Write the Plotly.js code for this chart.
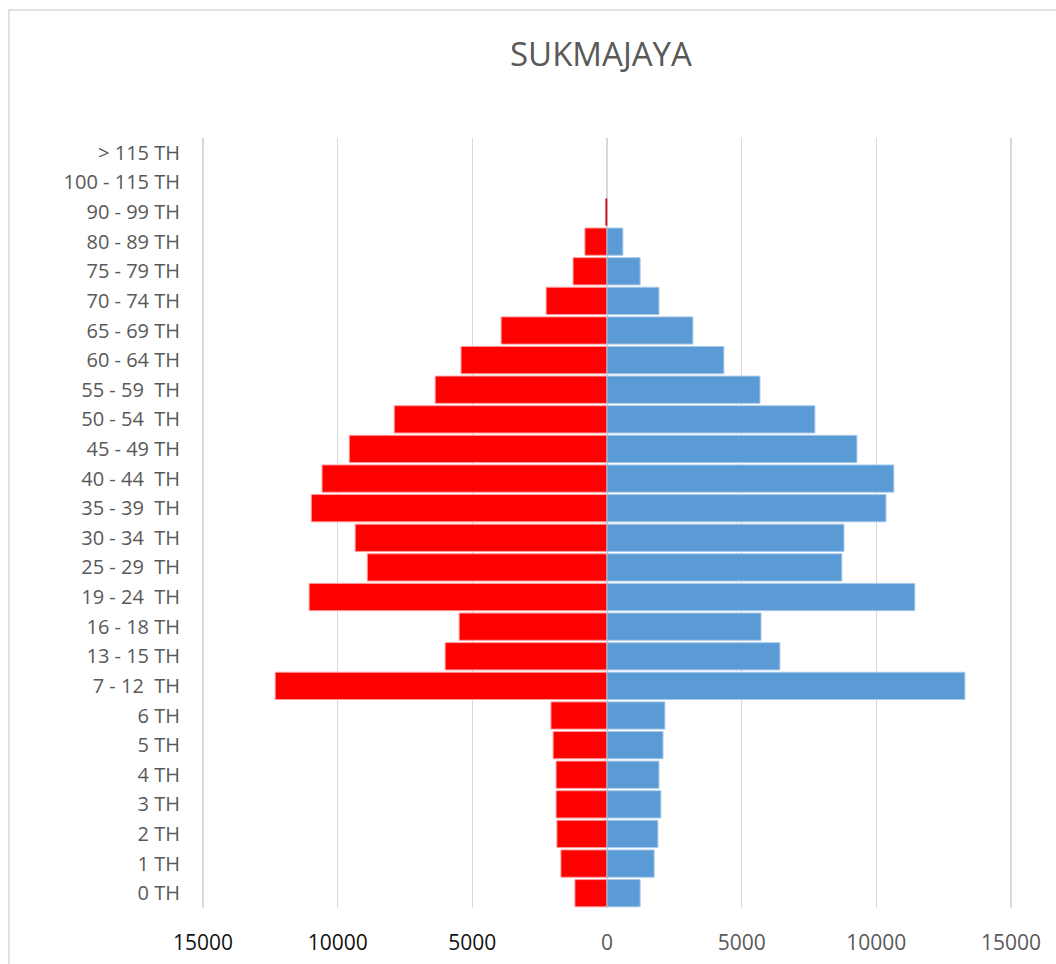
<!DOCTYPE html>
<html>
<head>
<meta charset="utf-8">
<script src="https://cdn.plot.ly/plotly-3.0.1.min.js"></script>
<style>html,body{margin:0;padding:0;background:#fff;}#chart{width:1056px;height:964px;}</style>
</head>
<body>
<div id="chart"></div>
<script>
const ageGroups = ["0 TH","1 TH","2 TH","3 TH","4 TH","5 TH","6 TH","7 - 12  TH","13 - 15 TH","16 - 18 TH","19 - 24  TH","25 - 29  TH","30 - 34  TH","35 - 39  TH","40 - 44  TH","45 - 49 TH","50 - 54  TH","55 - 59  TH","60 - 64 TH","65 - 69 TH","70 - 74 TH","75 - 79 TH","80 - 89 TH","90 - 99 TH","100 - 115 TH","> 115 TH"];
const leftValues = [1190,1710,1860,1890,1890,2000,2080,12320,6010,5490,11060,8900,9350,10980,10580,9570,7900,6380,5420,3930,2260,1260,820,60,0,0];
const rightValues = [1230,1750,1890,2000,1930,2080,2150,13290,6420,5720,11430,8720,8800,10360,10650,9280,7720,5680,4340,3190,1930,1230,590,20,0,0];
const tickValues = [-15000,-10000,-5000,0,5000,10000,15000];
const tickLabels = ["15000","10000","5000","0","5000","10000","15000"];

const leftNeg = leftValues.map(v => -v);
const outlineW = arr => arr.map(v => v >= 200 ? 1 : 0);
const traces = [
  {type:'bar', orientation:'h', y:ageGroups, x:leftNeg, name:'L',
   marker:{color:'#FF0000', line:{color:'#ff9a9a', width:outlineW(leftValues)}}, hoverinfo:'skip'},
  {type:'bar', orientation:'h', y:ageGroups, x:rightValues, name:'P',
   marker:{color:'#5B9BD5', line:{color:'#a8c8ea', width:outlineW(rightValues)}}, hoverinfo:'skip'}
];
const ticktext = tickLabels.map((t,i) => tickValues[i] < 0 ? '<span style="color:#111111">'+t+'</span>' : t);
const layout = {
  width:1056, height:964,
  margin:{l:199, r:41, t:138, b:56, pad:0},
  paper_bgcolor:'#ffffff', plot_bgcolor:'#ffffff',
  barmode:'overlay', bargap:0.08, showlegend:false,
  font:{family:'"Open Sans", sans-serif', color:'#595959', size:20},
  title:{text:'SUKMAJAYA', x:0.4926, xref:'paper', xanchor:'center', y:0.943, yref:'container', yanchor:'middle',
         font:{family:'"Open Sans", sans-serif', size:33, color:'#595959'}},
  xaxis:{range:[-15150,15150], tickmode:'array', tickvals:tickValues, ticktext:ticktext,
         showgrid:true, gridcolor:'#d9d9d9', gridwidth:1.5, zeroline:true, zerolinecolor:'#d9d9d9', zerolinewidth:2,
         showline:false, ticks:'', ticklabelstandoff:20, tickfont:{size:21, color:'#595959'}, fixedrange:true},
  yaxis:{type:'category', categoryorder:'array', categoryarray:ageGroups, showgrid:false, zeroline:false,
         showline:false, ticks:'', ticklabelstandoff:18, tickfont:{size:20, color:'#595959'}, fixedrange:true},
  shapes:[{type:'rect', xref:'paper', yref:'paper', x0:-0.233, x1:1.5, y0:-0.5, y1:1.1662,
           line:{color:'#d9d9d9', width:1.5}, fillcolor:'rgba(0,0,0,0)', layer:'below'}]
};
Plotly.newPlot('chart', traces, layout, {displayModeBar:false, staticPlot:true});
</script>
</body>
</html>
